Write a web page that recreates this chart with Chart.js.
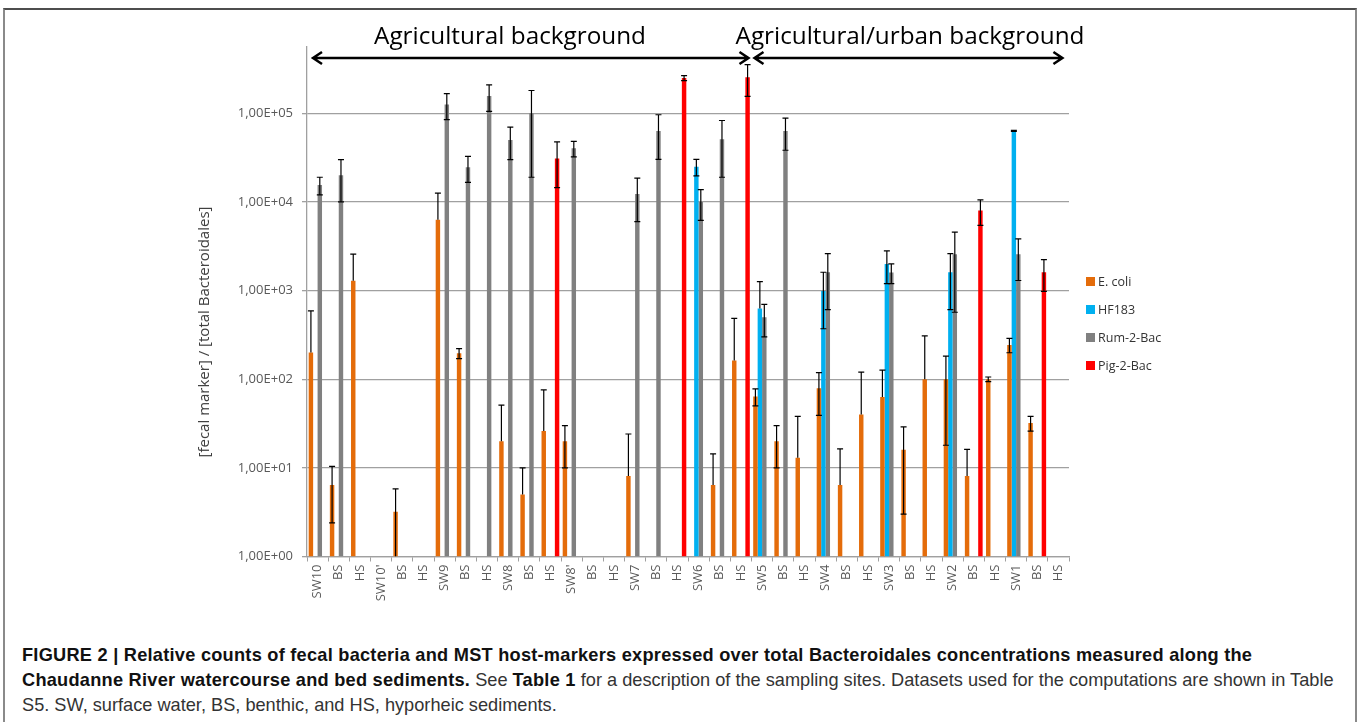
<!DOCTYPE html>
<html>
<head>
<meta charset="utf-8">
<script src="https://cdn.jsdelivr.net/npm/chart.js@4"></script>
<style>
body{margin:0;background:#fff;width:1357px;height:722px;overflow:hidden;position:relative;font-family:'Open Sans',sans-serif}
.frame{position:absolute;left:3px;top:8px;width:1350px;height:740px;border-top:2px solid #4d4d4d;border-left:2px solid #8a8a8a;border-right:2px solid #8a8a8a}
#chart{position:absolute;left:0;top:0}
.ytitle{position:absolute;left:3px;top:322px;width:400px;height:20px;line-height:20px;text-align:center;font-size:15px;color:#404040;transform:rotate(-90deg);transform-origin:200px 10px}
.legend{position:absolute;left:1086px;top:267px;font-size:12.5px;color:#333}
.legend div{height:28px;display:flex;align-items:center}
.legend span{display:inline-block;width:9px;height:9px;margin-right:3px}
.caption{position:absolute;left:22px;top:643px;font-family:'Liberation Sans',sans-serif;font-size:18.2px;line-height:25px;white-space:nowrap;color:#333}
.caption b{color:#111;letter-spacing:0.25px}
</style>
</head>
<body>
<div class="frame"></div>
<canvas id="chart" width="1357" height="630"></canvas>
<div class="ytitle">[fecal marker] / [total Bacteroidales]</div>
<div class="legend" id="legend"></div>
<div class="caption">
<b>FIGURE 2 | Relative counts of fecal bacteria and MST host-markers expressed over total Bacteroidales concentrations measured along the</b><br>
<b>Chaudanne River watercourse and bed sediments.</b> See <b>Table 1</b> for a description of the sampling sites. Datasets used for the computations are shown in Table<br>
S5. SW, surface water, BS, benthic, and HS, hyporheic sediments.
</div>
<script>
// sampling sites along the river (surface water, benthic, hyporheic)
const categories = ['SW10','BS','HS',"SW10'",'BS','HS','SW9','BS','HS','SW8','BS','HS',"SW8'",'BS','HS','SW7','BS','HS',
  'SW6','BS','HS','SW5','BS','HS','SW4','BS','HS','SW3','BS','HS','SW2','BS','HS','SW1','BS','HS'];

const ecoli    = [200,6.4,1290,null,3.2,null,6300,196,null,20,5,26,20,null,null,8.1,null,null,
  null,6.4,163,64,20,13,79,6.4,40,63,16,100,100,8.1,100,244,32,null];
const ecoliErr = [390,4,1290,null,2.6,null,6300,25,null,31,5,50,10,null,null,16,null,null,
  null,8,324,14,10,25,40,10,80,64,13,208,82,8.1,6,45,6,null];

const hf183    = [null,null,null,null,null,null,null,null,null,null,null,null,null,null,null,null,null,null,
  25000,null,null,630,null,null,991,null,null,2000,null,null,1610,null,null,63300,null,null];
const hf183Err = [null,null,null,null,null,null,null,null,null,null,null,null,null,null,null,null,null,null,
  5300,null,null,630,null,null,620,null,null,800,null,null,1000,null,null,800,null,null];

const rum    = [15500,20000,null,null,null,null,126000,24600,157000,50000,100000,null,40300,null,null,12300,63300,null,
  10000,51000,null,500,63300,null,1610,null,null,1600,null,null,2570,null,null,2570,null,null];
const rumErr = [3500,10000,null,null,null,null,41000,8000,52000,20000,81000,null,8000,null,null,6300,33000,null,
  3800,32000,null,200,25000,null,1000,null,null,400,null,null,2000,null,null,1270,null,null];

const pig    = [null,null,null,null,null,null,null,null,null,null,null,31000,null,null,null,null,null,250000,
  null,null,255000,null,null,null,null,null,null,null,null,null,null,8000,null,null,1610,null];
const pigErr = [null,null,null,null,null,null,null,null,null,null,null,16500,null,null,null,null,null,16000,
  null,null,100000,null,null,null,null,null,null,null,null,null,null,2550,null,null,630,null];

const seriesNames = ['E. coli','HF183','Rum-2-Bac','Pig-2-Bac'];
const seriesColors = ['#e46c0a','#00b0f0','#808080','#ff0000'];
const yTicks = [1,10,100,1000,10000,100000];

const values = [ecoli, hf183, rum, pig];
const errors = [ecoliErr, hf183Err, rumErr, pigErr];

const legend = document.getElementById('legend');
seriesNames.forEach((n,i) => {
  const row = document.createElement('div');
  const sw = document.createElement('span');
  sw.style.background = seriesColors[i];
  row.append(sw, n);
  legend.appendChild(row);
});

const errorBars = {
  id: 'errorBars',
  afterDatasetsDraw(chart){
    const ctx = chart.ctx, y = chart.scales.y, a = chart.chartArea;
    ctx.save();
    ctx.beginPath();
    ctx.rect(a.left, a.top - 30, a.right - a.left, a.bottom - a.top + 30);
    ctx.clip();
    ctx.strokeStyle = '#000';
    ctx.lineWidth = 1.2;
    values.forEach((vals, d) => {
      const meta = chart.getDatasetMeta(d);
      vals.forEach((v, i) => {
        const e = errors[d][i];
        if (v == null || e == null) return;
        const x = meta.data[i].x;
        const top = y.getPixelForValue(v + e);
        const lowOk = v - e > 0;
        const bot = lowOk ? y.getPixelForValue(v - e) : y.getPixelForValue(v);
        ctx.beginPath();
        ctx.moveTo(x, top); ctx.lineTo(x, Math.min(bot, a.bottom));
        ctx.moveTo(x - 3, top); ctx.lineTo(x + 3, top);
        if (lowOk && bot <= a.bottom) { ctx.moveTo(x - 3, bot); ctx.lineTo(x + 3, bot); }
        ctx.stroke();
      });
    });
    ctx.restore();
  }
};

function arrow(ctx, x1, x2, y){
  ctx.beginPath();
  ctx.moveTo(x1, y); ctx.lineTo(x2, y);
  ctx.moveTo(x1 + 9, y - 6); ctx.lineTo(x1, y); ctx.lineTo(x1 + 9, y + 6);
  ctx.moveTo(x2 - 9, y - 6); ctx.lineTo(x2, y); ctx.lineTo(x2 - 9, y + 6);
  ctx.stroke();
}

const groups = {
  id: 'groups',
  afterDraw(chart){
    const ctx = chart.ctx, x = chart.scales.x, a = chart.chartArea;
    const split = (x.getPixelForValue(20) + x.getPixelForValue(21)) / 2;
    ctx.save();
    ctx.strokeStyle = '#000';
    ctx.lineWidth = 2.5;
    arrow(ctx, a.left + 6, split - 3, 58);
    arrow(ctx, split + 3, x.getPixelForValue(35) + 4, 58);
    ctx.fillStyle = '#000';
    ctx.font = '24.3px "Open Sans"';
    ctx.textAlign = 'center';
    ctx.textBaseline = 'alphabetic';
    ctx.fillText('Agricultural background', 510, 44);
    ctx.fillText('Agricultural/urban background', 910, 44);
    ctx.restore();
  }
};

new Chart(document.getElementById('chart'), {
  type: 'bar',
  data: {
    labels: categories,
    datasets: values.map((v, i) => ({
      label: seriesNames[i],
      data: v,
      backgroundColor: seriesColors[i],
      borderWidth: 0
    }))
  },
  options: {
    responsive: false,
    animation: false,
    categoryPercentage: 0.84,
    barPercentage: 1.0,
    layout: { padding: { left: 0, top: 47, right: 288, bottom: 0 } },
    plugins: { legend: { display: false }, tooltip: { enabled: false } },
    scales: {
      x: {
        grid: { drawOnChartArea: false, drawTicks: true, tickLength: 5, color: '#a0a0a0', offset: true },
        border: { color: '#a0a0a0', width: 1.3 },
        ticks: { minRotation: 90, maxRotation: 90, autoSkip: false, padding: 3, color: '#595959',
          font: { family: 'Open Sans', size: 13 } },
        afterFit(s){ s.height = 630 - 556.5; }
      },
      y: {
        type: 'logarithmic',
        min: 1,
        max: 560000,
        afterBuildTicks(s){ s.ticks = yTicks.map(v => ({ value: v, major: true })); },
        grid: { color: '#a0a0a0', lineWidth: 1.3, tickLength: 5 },
        border: { color: '#a0a0a0', width: 1.3 },
        ticks: { padding: 9, color: '#595959', font: { family: 'Open Sans', size: 13 },
          callback: v => '1,00E+' + String(Math.round(Math.log10(v))).padStart(2, '0') },
        afterFit(s){ s.width = 307; }
      }
    }
  },
  plugins: [errorBars, groups]
});
</script>
</body>
</html>
